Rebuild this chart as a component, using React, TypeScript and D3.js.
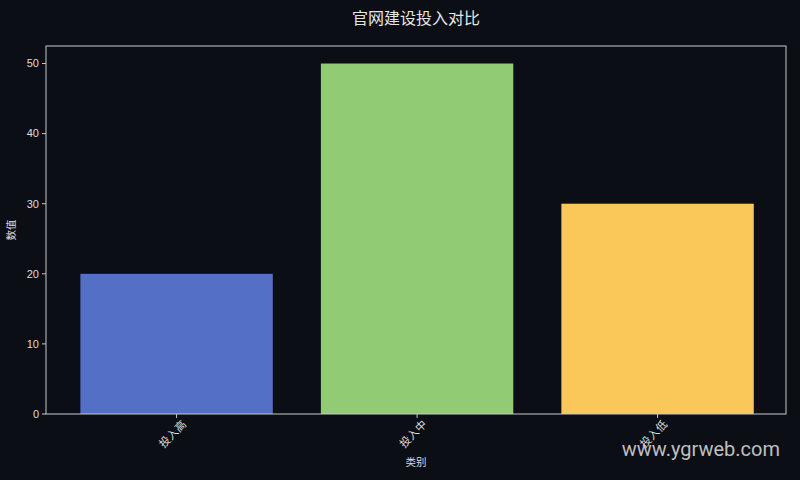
import React from 'react';
import * as d3 from 'd3';

// chart data
const categories = ['投入高', '投入中', '投入低'];
const values = [20, 50, 30];
const barColors = ['#5470c6', '#91cc75', '#fac858'];
const yTicks = [0, 10, 20, 30, 40, 50];

const FONT = '"Noto Sans CJK SC", "DejaVu Sans", sans-serif';
const NUM_FONT = '"Liberation Sans", Arial, sans-serif';

export default function App() {
  const width = 800;
  const height = 480;
  const margin = { top: 46, right: 14, bottom: 66, left: 46 };
  const innerW = width - margin.left - margin.right;
  const innerH = height - margin.top - margin.bottom;

  // matplotlib style: bar width 0.8, ~5% axis margins
  const x = d3.scaleLinear().domain([-0.543, 2.534]).range([0, innerW]);
  const y = d3.scaleLinear().domain([0, 52.5]).range([innerH, 0]);
  const bw = x(0.8) - x(0);

  return (
    <svg
      width={width}
      height={height}
      style={{ display: 'block', position: 'absolute', left: 0, top: 0, background: '#0b0e15', fontFamily: FONT }}
    >
      <rect width={width} height={height} fill="#0b0e15" />
      <text x={margin.left + innerW / 2} y={24} textAnchor="middle" fontSize={16} fill="#e6e6e6">
        官网建设投入对比
      </text>
      <g transform={`translate(${margin.left},${margin.top})`}>
        {values.map((v, i) => (
          <rect
            key={categories[i]}
            x={x(i) - bw / 2}
            y={y(v)}
            width={bw}
            height={innerH - y(v)}
            fill={barColors[i]}
          />
        ))}
        {/* frame */}
        <rect x={0} y={0} width={innerW} height={innerH} fill="none" stroke="#c8c8c8" strokeWidth={1} />
        {yTicks.map((t) => (
          <g key={t} transform={`translate(0,${y(t)})`}>
            <line x1={-4} x2={0} stroke="#c8c8c8" />
            <text x={-7} dy="0.35em" textAnchor="end" fontSize={11} fill="#dcdcdc" fontFamily={NUM_FONT}>
              {t}
            </text>
          </g>
        ))}
        {categories.map((c, i) => (
          <g key={c} transform={`translate(${x(i)},${innerH})`}>
            <line y1={0} y2={4} stroke="#c8c8c8" />
            <text
              transform="translate(-4,20) rotate(-45)"
              textAnchor="middle"
              dy="0.35em"
              fontSize={11}
              fill="#dcdcdc"
            >
              {c}
            </text>
          </g>
        ))}
        <text x={innerW / 2} y={innerH + 52} textAnchor="middle" fontSize={10.5} fill="#dcdcdc">
          类别
        </text>
        <text
          transform={`translate(${-31},${innerH / 2}) rotate(-90)`}
          textAnchor="middle"
          fontSize={10.5}
          fill="#dcdcdc"
        >
          数值
        </text>
      </g>
      <text x={780} y={456} textAnchor="end" fontSize={20} fill="#e0e0e0" fillOpacity={0.85} fontFamily='Roboto, "Noto Sans", sans-serif'>
        www.ygrweb.com
      </text>
    </svg>
  );
}
